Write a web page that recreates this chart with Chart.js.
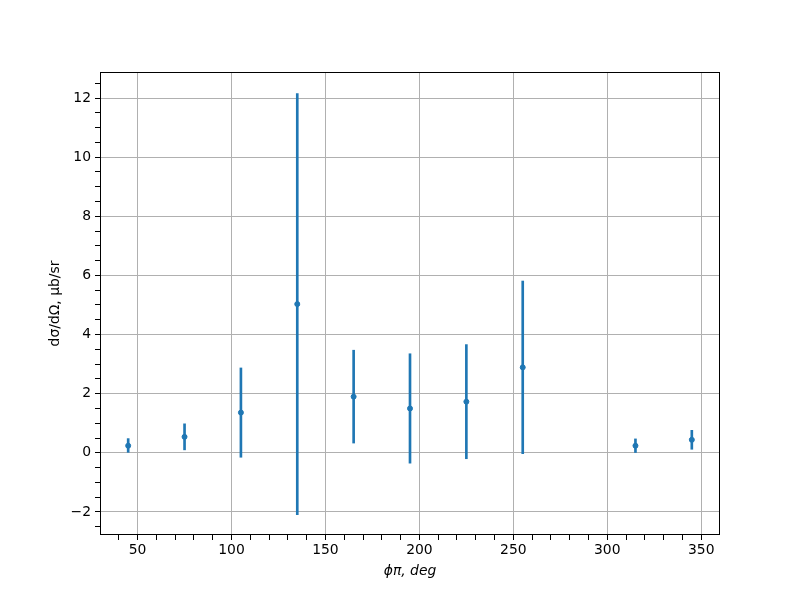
<!DOCTYPE html>
<html>
<head>
<meta charset="utf-8">
<script src="https://cdn.jsdelivr.net/npm/chart.js@4.4.1/dist/chart.umd.min.js"></script>
<style>
  html, body { margin: 0; padding: 0; background: #fff; }
  #wrap { width: 800px; height: 600px; }
</style>
</head>
<body>
<div id="wrap"><canvas id="chart" width="800" height="600"></canvas></div>
<script>
// phi_pi angles (deg)
const phi = [45, 75, 105, 135, 165, 195, 225, 255, 315, 345]
// cross section values, ub/sr
const sigma = [0.24, 0.54, 1.36, 5.03, 1.90, 1.50, 1.73, 2.89, 0.24, 0.44]
// symmetric errors
const errs = [0.24, 0.44, 1.51, 7.12, 1.57, 1.85, 1.93, 2.92, 0.23, 0.32]

const xTickLabels = [50, 100, 150, 200, 250, 300, 350]
const yTickLabels = [-2, 0, 2, 4, 6, 8, 10, 12]

const blue = '#1f77b4'
const font = { family: 'DejaVu Sans', size: 13.9 }

let errData = phi.map((x, i) => ({ x: x, y: [sigma[i] - errs[i], sigma[i] + errs[i]] }))
let ptData = phi.map((x, i) => ({ x: x, y: sigma[i] }))

// box around the plot area like matplotlib
const frame = {
    id: 'frame',
    afterDraw(chart) {
        const a = chart.chartArea
        const ctx = chart.ctx
        ctx.save()
        ctx.strokeStyle = '#000'
        ctx.lineWidth = 1
        ctx.strokeRect(a.left + 0.5, a.top + 0.5, a.right - a.left - 1, a.bottom - a.top - 1)
        ctx.restore()
    }
}

new Chart(document.getElementById('chart'), {
    type: 'bar',
    data: {
        datasets: [
            {
                type: 'bar',
                data: errData,
                backgroundColor: blue,
                barThickness: 2,
                borderWidth: 0,
                order: 2
            },
            {
                type: 'scatter',
                data: ptData,
                backgroundColor: blue,
                borderColor: blue,
                pointRadius: 2.5,
                order: 1
            }
        ]
    },
    options: {
        responsive: false,
        animation: false,
        layout: { padding: { top: 72, right: 80, left: 0, bottom: 0 } },
        plugins: {
            legend: { display: false },
            tooltip: { enabled: false }
        },
        scales: {
            x: {
                type: 'linear',
                min: 30,
                max: 360,
                offset: false,
                border: { display: false },
                afterFit: s => { s.height = 65 },
                afterBuildTicks: s => {
                    let t = []
                    for (let v = 40; v <= 350; v += 10) t.push({ value: v })
                    s.ticks = t
                },
                ticks: {
                    color: '#000',
                    font: font,
                    maxRotation: 0,
                    autoSkip: false,
                    padding: 2,
                    callback: v => xTickLabels.includes(v) ? v : ''
                },
                grid: {
                    offset: false,
                    color: c => xTickLabels.includes(c.tick && c.tick.value) ? '#b0b0b0' : 'rgba(0,0,0,0)',
                    tickColor: '#000',
                    tickLength: 5,
                    lineWidth: 1
                },
                title: {
                    display: true,
                    text: 'ϕπ, deg',
                    color: '#000',
                    font: { family: 'DejaVu Sans', size: 13.9, style: 'italic' },
                    padding: { top: 2, bottom: 20 }
                }
            },
            y: {
                min: -2.78,
                max: 12.88,
                border: { display: false },
                afterFit: s => { s.width = 100 },
                afterBuildTicks: s => {
                    let t = []
                    for (let v = -2.5; v <= 12.5; v += 0.5) t.push({ value: v })
                    s.ticks = t
                },
                ticks: {
                    color: '#000',
                    font: font,
                    autoSkip: false,
                    padding: 4,
                    callback: v => yTickLabels.includes(v) ? (v < 0 ? '\u2212' + Math.abs(v) : v) : ''
                },
                grid: {
                    color: c => yTickLabels.includes(c.tick && c.tick.value) ? '#b0b0b0' : 'rgba(0,0,0,0)',
                    tickColor: '#000',
                    tickLength: 5,
                    lineWidth: 1
                },
                title: {
                    display: true,
                    text: 'dσ/dΩ, μb/sr',
                    color: '#000',
                    font: font,
                    padding: { top: 47, bottom: 4 }
                }
            }
        }
    },
    plugins: [frame]
})
</script>
</body>
</html>
